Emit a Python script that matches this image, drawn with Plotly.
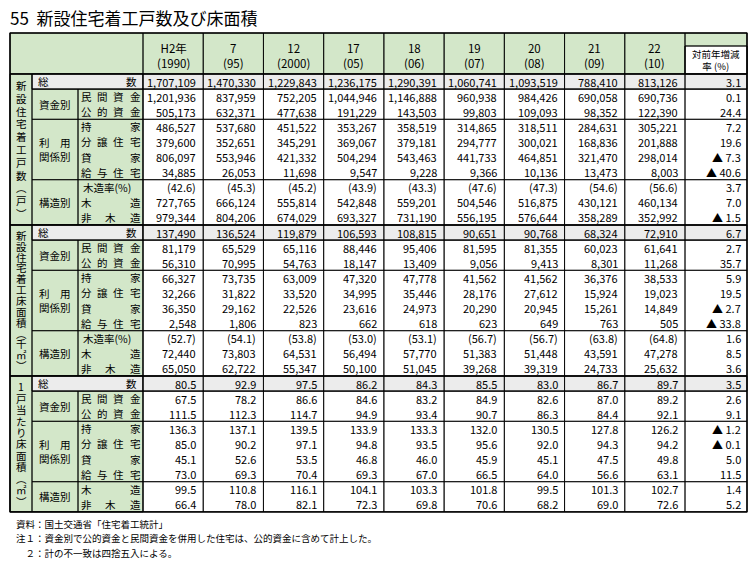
import plotly.graph_objects as go

# ---- data ----
years = ['H2年<br>(1990)', '7<br>(95)', '12<br>(2000)', '17<br>(05)', '18<br>(06)',
         '19<br>(07)', '20<br>(08)', '21<br>(09)', '22<br>(10)']
change_header = '対前年増減<br>率 (%)'

sections = ['新設住宅着工戸数︵戸︶', '新設住宅着工床面積︵千㎡︶', '1戸当たり床面積︵㎡︶']

items_a = ['総数', '民間資金', '公的資金', '持家', '分譲住宅', '貸家', '給与住宅', '木造率(%)', '木造', '非木造']
items_c = ['総数', '民間資金', '公的資金', '持家', '分譲住宅', '貸家', '給与住宅', '木造', '非木造']
groups_a = [('', 1), ('資金別', 2), ('利　用<br>関係別', 4), ('構造別', 3)]
groups_c = [('', 1), ('資金別', 2), ('利　用<br>関係別', 4), ('構造別', 2)]

units = [
    [1707109, 1470330, 1229843, 1236175, 1290391, 1060741, 1093519, 788410, 813126],
    [1201936, 837959, 752205, 1044946, 1146888, 960938, 984426, 690058, 690736],
    [505173, 632371, 477638, 191229, 143503, 99803, 109093, 98352, 122390],
    [486527, 537680, 451522, 353267, 358519, 314865, 318511, 284631, 305221],
    [379600, 352651, 345291, 369067, 379181, 294777, 300021, 168836, 201888],
    [806097, 553946, 421332, 504294, 543463, 441733, 464851, 321470, 298014],
    [34885, 26053, 11698, 9547, 9228, 9366, 10136, 13473, 8003],
    [42.6, 45.3, 45.2, 43.9, 43.3, 47.6, 47.3, 54.6, 56.6],
    [727765, 666124, 555814, 542848, 559201, 504546, 516875, 430121, 460134],
    [979344, 804206, 674029, 693327, 731190, 556195, 576644, 358289, 352992],
]
units_change = [3.1, 0.1, 24.4, 7.2, 19.6, -7.3, -40.6, 3.7, 7.0, -1.5]

area = [
    [137490, 136524, 119879, 106593, 108815, 90651, 90768, 68324, 72910],
    [81179, 65529, 65116, 88446, 95406, 81595, 81355, 60023, 61641],
    [56310, 70995, 54763, 18147, 13409, 9056, 9413, 8301, 11268],
    [66327, 73735, 63009, 47320, 47778, 41562, 41562, 36376, 38533],
    [32266, 31822, 33520, 34995, 35446, 28176, 27612, 15924, 19023],
    [36350, 29162, 22526, 23616, 24973, 20290, 20945, 15261, 14849],
    [2548, 1806, 823, 662, 618, 623, 649, 763, 505],
    [52.7, 54.1, 53.8, 53.0, 53.1, 56.7, 56.7, 63.8, 64.8],
    [72440, 73803, 64531, 56494, 57770, 51383, 51448, 43591, 47278],
    [65050, 62722, 55347, 50100, 51045, 39268, 39319, 24733, 25632],
]
area_change = [6.7, 2.7, 35.7, 5.9, 19.5, -2.7, -33.8, 1.6, 8.5, 3.6]

per_unit = [
    [80.5, 92.9, 97.5, 86.2, 84.3, 85.5, 83.0, 86.7, 89.7],
    [67.5, 78.2, 86.6, 84.6, 83.2, 84.9, 82.6, 87.0, 89.2],
    [111.5, 112.3, 114.7, 94.9, 93.4, 90.7, 86.3, 84.4, 92.1],
    [136.3, 137.1, 139.5, 133.9, 133.3, 132.0, 130.5, 127.8, 126.2],
    [85.0, 90.2, 97.1, 94.8, 93.5, 95.6, 92.0, 94.3, 94.2],
    [45.1, 52.6, 53.5, 46.8, 46.0, 45.9, 45.1, 47.5, 49.8],
    [73.0, 69.3, 70.4, 69.3, 67.0, 66.5, 64.0, 56.6, 63.1],
    [99.5, 110.8, 116.1, 104.1, 103.3, 101.8, 99.5, 101.3, 102.7],
    [66.4, 78.0, 82.1, 72.3, 69.8, 70.6, 68.2, 69.0, 72.6],
]
per_unit_change = [3.5, 2.6, 9.1, -1.2, -0.1, 5.0, 11.5, 1.4, 5.2]

notes = ['資料：国土交通省「住宅着工統計」',
         '注１：資金別で公的資金と民間資金を併用した住宅は、公的資金に含めて計上した。',
         '　２：計の不一致は四捨五入による。']

# ---- layout constants ----
FONT = 'Noto Sans CJK JP'
GREEN = '#d3e7c9'
GRAY = '#ececec'
X0, X1 = 10, 747
XV, XG, XI, XD = 10, 32, 78, 143      # vertical label, group, item, data start
XC = 685                              # change column start
CW = (XC - XD) / len(years)
Y0, YH = 33, 74
RH = 15.1

fig = go.Figure()
shapes, ann = [], []


def rect(x0, y0, x1, y1, fill=None, lw=0.8):
    shapes.append(dict(type='rect', xref='x', yref='y', x0=x0, y0=y0, x1=x1, y1=y1,
                       fillcolor=fill or 'rgba(0,0,0,0)', line=dict(color='black', width=lw),
                       layer='below' if fill else 'above'))


def text(x, y, s, anchor='center', size=11):
    ann.append(dict(x=x, y=y, xref='x', yref='y', text=s, showarrow=False, xanchor=anchor,
                    yanchor='middle', font=dict(family=FONT, size=size, color='black')))


def fmt(v, is_rate):
    if is_rate:
        return f'({v:.1f})'
    if isinstance(v, int):
        return f'{v:,}'
    return f'{v:.1f}'


def fmt_change(v):
    return f'▲ {abs(v):.1f}' if v < 0 else f'{v:.1f}'


# header
rect(X0, Y0, X1, YH, GREEN)
rect(X0, Y0, XD, YH)
for i, y in enumerate(years):
    rect(XD + i * CW, Y0, XD + (i + 1) * CW, YH)
    text(XD + (i + 0.5) * CW, (Y0 + YH) / 2 + 2, y, size=11.5)
rect(XC, Y0, X1, YH)
rect(XC, 46, X1, YH, 'white')
rect(XC, 46, X1, YH)
text((XC + X1) / 2, 60, change_header, size=9.5)

blocks = [(units, units_change, items_a, groups_a),
          (area, area_change, items_a, groups_a),
          (per_unit, per_unit_change, items_c, groups_c)]

y = YH
for s, (vals, chg, items, groups) in enumerate(blocks):
    ys = y
    n = len(items)
    ye = ys + n * RH
    # label backgrounds
    rect(XV, ys, XD, ye, GREEN)
    rect(XG, ys, XD, ys + RH, GRAY)
    rect(XD, ys, X1, ys + RH, GRAY)
    # vertical section label, one character at a time
    chars = list(sections[s])
    step = (ye - ys - 10) / len(chars)
    for j, c in enumerate(chars):
        text((XV + XG) / 2, ys + 5 + (j + 0.5) * step, c, size=10.5)
    rect(XV, ys, XG, ye)
    # groups
    r = 0
    for g, cnt in groups:
        gy0, gy1 = ys + r * RH, ys + (r + cnt) * RH
        if g:
            rect(XG, gy0, XI, gy1)
            text((XG + XI) / 2, (gy0 + gy1) / 2, g, size=10.5)
            rect(XI, gy0, XD, gy1)
        else:
            rect(XG, gy0, XD, gy1)
        for c in range(len(years)):
            rect(XD + c * CW, gy0, XD + (c + 1) * CW, gy1)
        rect(XC, gy0, X1, gy1)
        r += cnt
    # rows
    for k, name in enumerate(items):
        cy = ys + (k + 0.5) * RH
        is_rate = name.startswith('木造率')
        if name == '総数':
            text(XG + 4, cy, '総', 'left', 10.5)
            text(XD - 4, cy, '数', 'right', 10.5)
        elif is_rate:
            text(XI + 3, cy, name, 'left', 10.5)
        else:
            ch = list(name)
            if name == '非木造':
                pos = [XI + 8, (XI + XD) / 2, XD - 8]
            elif len(ch) == 2:
                pos = [XI + 8, XD - 8]
            else:
                m = len(ch)
                pos = [XI + 8 + j * (XD - XI - 16) / (m - 1) for j in range(m)]
            for c, px in zip(ch, pos):
                text(px, cy, c, size=10.5)
        for c, v in enumerate(vals[k]):
            text(XD + (c + 1) * CW - 5, cy, fmt(v, is_rate), 'right', 11)
        text(X1 - 4, cy, fmt_change(chg[k]), 'right', 11)
    rect(XV, ys, X1, ye)
    y = ye

# outer border
rect(X0, Y0, X1, y, lw=1.2)

# title and notes
text(8, 17, '55  新設住宅着工戸数及び床面積', 'left', 17)
for i, nt in enumerate(notes):
    text(14, y + 12 + i * 14.5, nt, 'left', 9.5)

fig.update_layout(
    width=755, height=563, margin=dict(l=0, r=0, t=0, b=0),
    plot_bgcolor='white', paper_bgcolor='white',
    shapes=shapes, annotations=ann, showlegend=False,
)
fig.update_xaxes(range=[0, 755], visible=False, fixedrange=True)
fig.update_yaxes(range=[563, 0], visible=False, fixedrange=True)
fig.write_html('out.html', config={'displayModeBar': False},
               post_script="document.body.style.margin='0';document.body.style.overflow='hidden';")
